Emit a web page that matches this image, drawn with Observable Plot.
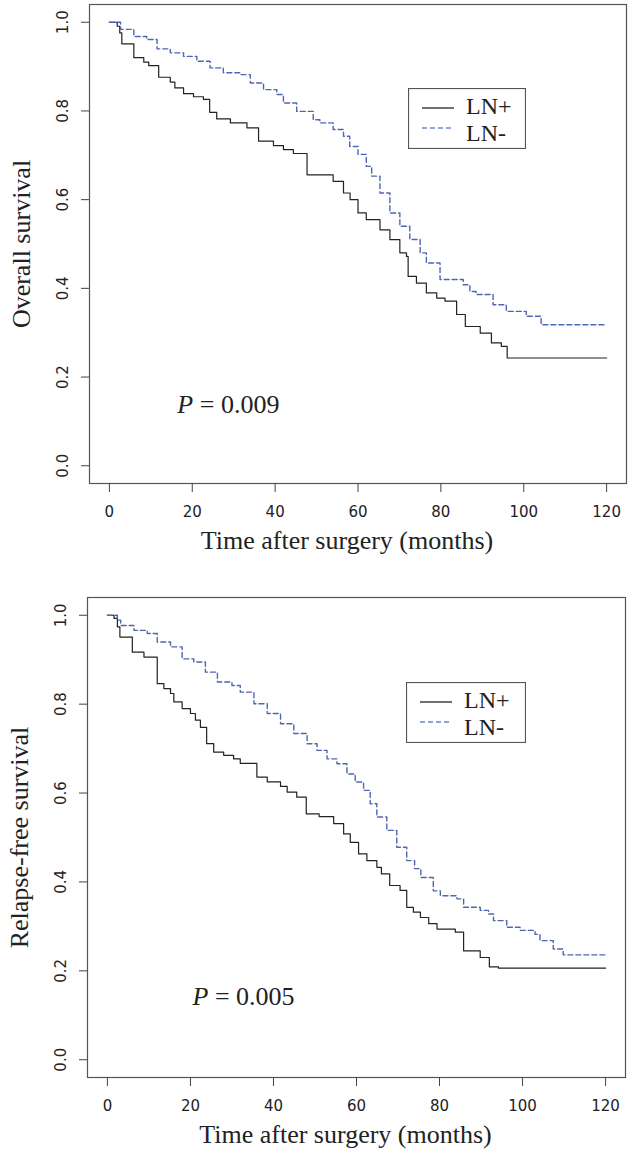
<!DOCTYPE html>
<html>
<head>
<meta charset="utf-8">
<script src="https://cdn.jsdelivr.net/npm/d3@7"></script>
<script src="https://cdn.jsdelivr.net/npm/@observablehq/plot@0.6"></script>
<style>
  html, body { margin: 0; padding: 0; background: #fff; }
  body { width: 633px; height: 1161px; overflow: hidden; }
  .panel { position: relative; width: 633px; }
  .panel svg { display: block; }
  .legend { position: absolute; }
</style>
</head>
<body>
<div id="top" class="panel"></div>
<div id="bottom" class="panel"></div>
<script>
// ---------- data ----------
const groupNames = ["LN+", "LN-"];
const xTicks = [0, 20, 40, 60, 80, 100, 120];
const yTicks = [0, 0.2, 0.4, 0.6, 0.8, 1.0];
const xTitle = "Time after surgery (months)";
const osTitle = "Overall survival";
const rfsTitle = "Relapse-free survival";
const osPText = "P = 0.009";
const rfsPText = "P = 0.005";
const osPPos = [16.4, 0.138];
const rfsPPos = [20.5, 0.142];

// Overall survival, LN+
const osPosT = [0, 1.9, 2.5, 3.0, 5.9, 8.3, 9.5, 11.9, 14.7, 15.8, 17.9, 20.3, 22.7, 24.2, 25.9, 29.2, 33.2, 36.0, 39.6, 42.0, 44.4, 47.7, 54.0, 56.5, 58.1, 60.0, 62.0, 65.3, 67.7, 70.1, 71.7, 72.1, 74.1, 76.5, 79.0, 81.0, 83.8, 85.9, 89.5, 92.2, 94.6, 96.0, 120];
const osPosS = [1, 0.991, 0.976, 0.951, 0.92, 0.91, 0.902, 0.876, 0.865, 0.852, 0.839, 0.832, 0.826, 0.797, 0.782, 0.773, 0.762, 0.732, 0.722, 0.713, 0.704, 0.656, 0.641, 0.615, 0.60, 0.57, 0.555, 0.532, 0.51, 0.48, 0.472, 0.427, 0.412, 0.39, 0.378, 0.371, 0.341, 0.314, 0.299, 0.277, 0.269, 0.243, 0.243];
// Overall survival, LN-
const osNegT = [0, 2.7, 5.9, 9.0, 11.5, 14.7, 17.9, 21.1, 24.3, 27.5, 31.6, 34.0, 37.2, 40.4, 42.0, 45.2, 49.2, 50.8, 54.0, 56.5, 58.0, 60.0, 62.0, 63.3, 65.3, 67.7, 70.1, 72.5, 75.0, 76.5, 79.8, 85.4, 87.0, 88.5, 92.6, 95.8, 100.6, 104.2, 120];
const osNegS = [1, 0.984, 0.968, 0.961, 0.94, 0.931, 0.923, 0.912, 0.897, 0.886, 0.882, 0.863, 0.848, 0.837, 0.818, 0.799, 0.78, 0.773, 0.758, 0.743, 0.72, 0.702, 0.675, 0.653, 0.615, 0.57, 0.54, 0.51, 0.48, 0.457, 0.42, 0.408, 0.393, 0.386, 0.363, 0.348, 0.337, 0.318, 0.318];
// Relapse-free survival, LN+
const rfsPosT = [0, 1.6, 2.4, 3.0, 6.0, 8.8, 12.0, 13.6, 15.2, 16.0, 18.0, 20.0, 21.2, 22.4, 23.9, 25.6, 28.0, 30.4, 32.0, 36.0, 38.5, 41.7, 43.3, 45.6, 47.9, 51.0, 54.5, 56.9, 58.5, 60.5, 62.5, 64.9, 66.0, 68.0, 70.5, 72.1, 73.7, 75.4, 77.4, 79.4, 83.8, 85.8, 89.8, 92.0, 94.2, 120];
const rfsPosS = [1, 0.993, 0.974, 0.951, 0.917, 0.906, 0.846, 0.835, 0.824, 0.805, 0.79, 0.779, 0.764, 0.748, 0.711, 0.692, 0.685, 0.677, 0.667, 0.636, 0.625, 0.615, 0.602, 0.591, 0.553, 0.547, 0.531, 0.508, 0.489, 0.463, 0.448, 0.433, 0.418, 0.392, 0.381, 0.343, 0.332, 0.32, 0.306, 0.294, 0.287, 0.245, 0.23, 0.209, 0.206, 0.206];
// Relapse-free survival, LN-
const rfsNegT = [0, 2.4, 3.2, 6.4, 9.6, 12.0, 15.2, 18.0, 20.8, 23.6, 26.5, 30.0, 32.0, 35.3, 38.5, 41.7, 44.9, 48.1, 50.5, 52.9, 55.3, 57.7, 59.7, 61.7, 63.3, 64.9, 67.3, 69.7, 72.1, 74.0, 75.5, 78.5, 80.2, 84.2, 85.8, 89.8, 91.8, 93.0, 96.2, 99.4, 103.0, 104.2, 107.4, 109.8, 120];
const rfsNegS = [1, 0.989, 0.977, 0.966, 0.959, 0.94, 0.929, 0.902, 0.895, 0.872, 0.85, 0.842, 0.827, 0.801, 0.779, 0.756, 0.734, 0.711, 0.696, 0.677, 0.666, 0.643, 0.625, 0.606, 0.576, 0.546, 0.516, 0.478, 0.448, 0.43, 0.41, 0.38, 0.369, 0.362, 0.343, 0.336, 0.328, 0.313, 0.298, 0.291, 0.282, 0.268, 0.249, 0.236, 0.236];

// ---------- styles ----------
const serif = "'Liberation Serif', 'Times New Roman', serif";
const sans = "'DejaVu Sans', Verdana, sans-serif";
const posColor = "#222222";
const negColor = "#4f66b0";

function toRows(ts, ss) { return ts.map((t, i) => ({t, s: ss[i]})); }

function drawPanel(el, cfg) {
  const pos = toRows(cfg.posT, cfg.posS);
  const neg = toRows(cfg.negT, cfg.negS);
  const svg = Plot.plot({
    width: 633,
    height: cfg.height,
    marginTop: cfg.mt, marginBottom: cfg.mb, marginLeft: cfg.ml, marginRight: cfg.mr,
    style: {background: "#fff", fontFamily: sans, fontSize: "15px", color: "#222"},
    x: {domain: [-4.8, 124.8]},
    y: {domain: [-0.04, 1.04]},
    marks: [
      Plot.frame({stroke: "#555", strokeWidth: 1.2}),
      Plot.axisX({ticks: xTicks, tickSize: 9, tickPadding: 14, tickFormat: d => String(d), label: null,
        stroke: "#444", fill: "#222", fontFamily: sans, fontSize: 15}),
      Plot.axisY({ticks: yTicks, tickSize: 8, tickPadding: 14, tickRotate: -90, tickFormat: d => d.toFixed(1), label: null,
        stroke: "#444", fill: "#222", fontFamily: sans, fontSize: 15}),
      Plot.line(pos, {x: "t", y: "s", curve: "step-after", stroke: posColor, strokeWidth: 1.2}),
      Plot.line(neg, {x: "t", y: "s", curve: "step-after", stroke: negColor, strokeWidth: 1.4, strokeDasharray: "5,3"}),
      Plot.text([cfg.pText], {x: cfg.pPos[0], y: cfg.pPos[1], text: d => d, textAnchor: "start",
        fontFamily: serif, fontSize: 26, fill: "#222"}),
      Plot.text([cfg.yTitle], {frameAnchor: "left", dx: -68, rotate: -90, textAnchor: "middle", text: d => d,
        fontFamily: serif, fontSize: 26, fill: "#222"}),
      Plot.text([xTitle], {frameAnchor: "bottom", dy: 65, dx: -11, textAnchor: "middle", text: d => d,
        fontFamily: serif, fontSize: 26, fill: "#222"})
    ]
  });
  // italic P in the p-value annotation
  d3.select(svg).selectAll("text").each(function () {
    const s = this.textContent;
    if (s === cfg.pText) {
      this.textContent = "";
      d3.select(this).append("tspan").attr("font-style", "italic").text(s.slice(0, 1));
      d3.select(this).append("tspan").text(s.slice(1));
    }
  });
  el.appendChild(svg);

  // legend
  const L = cfg.legend;
  const lg = d3.select(el).append("svg").attr("class", "legend")
    .attr("width", L.w).attr("height", L.h)
    .style("left", L.x + "px").style("top", L.y + "px");
  lg.append("rect").attr("x", 0.5).attr("y", 0.5).attr("width", L.w - 1).attr("height", L.h - 1)
    .attr("fill", "#fff").attr("stroke", "#555").attr("stroke-width", 1.2);
  const rows = [
    {name: groupNames[0], color: posColor, dash: null, ly: 20, ty: 26},
    {name: groupNames[1], color: "#6f86cc", dash: "5,3", ly: 40, ty: 53}
  ];
  rows.forEach(r => {
    lg.append("line").attr("x1", 14).attr("x2", 46).attr("y1", r.ly).attr("y2", r.ly)
      .attr("stroke", r.color).attr("stroke-width", r.dash ? 1.6 : 1.3)
      .attr("stroke-dasharray", r.dash);
    lg.append("text").attr("x", 58).attr("y", r.ty).text(r.name)
      .attr("font-family", serif).attr("font-size", 24).attr("fill", "#222");
  });
}

drawPanel(document.getElementById("top"), {
  height: 570, mt: 4, mb: 87, ml: 89, mr: 7,
  posT: osPosT, posS: osPosS, negT: osNegT, negS: osNegS,
  pText: osPText, pPos: osPPos, yTitle: osTitle,
  legend: {x: 408, y: 88, w: 118, h: 61}
});
drawPanel(document.getElementById("bottom"), {
  height: 591, mt: 27, mb: 84, ml: 87, mr: 8,
  posT: rfsPosT, posS: rfsPosS, negT: rfsNegT, negS: rfsNegS,
  pText: rfsPText, pPos: rfsPPos, yTitle: rfsTitle,
  legend: {x: 406, y: 112, w: 120, h: 61}
});
</script>
</body>
</html>
